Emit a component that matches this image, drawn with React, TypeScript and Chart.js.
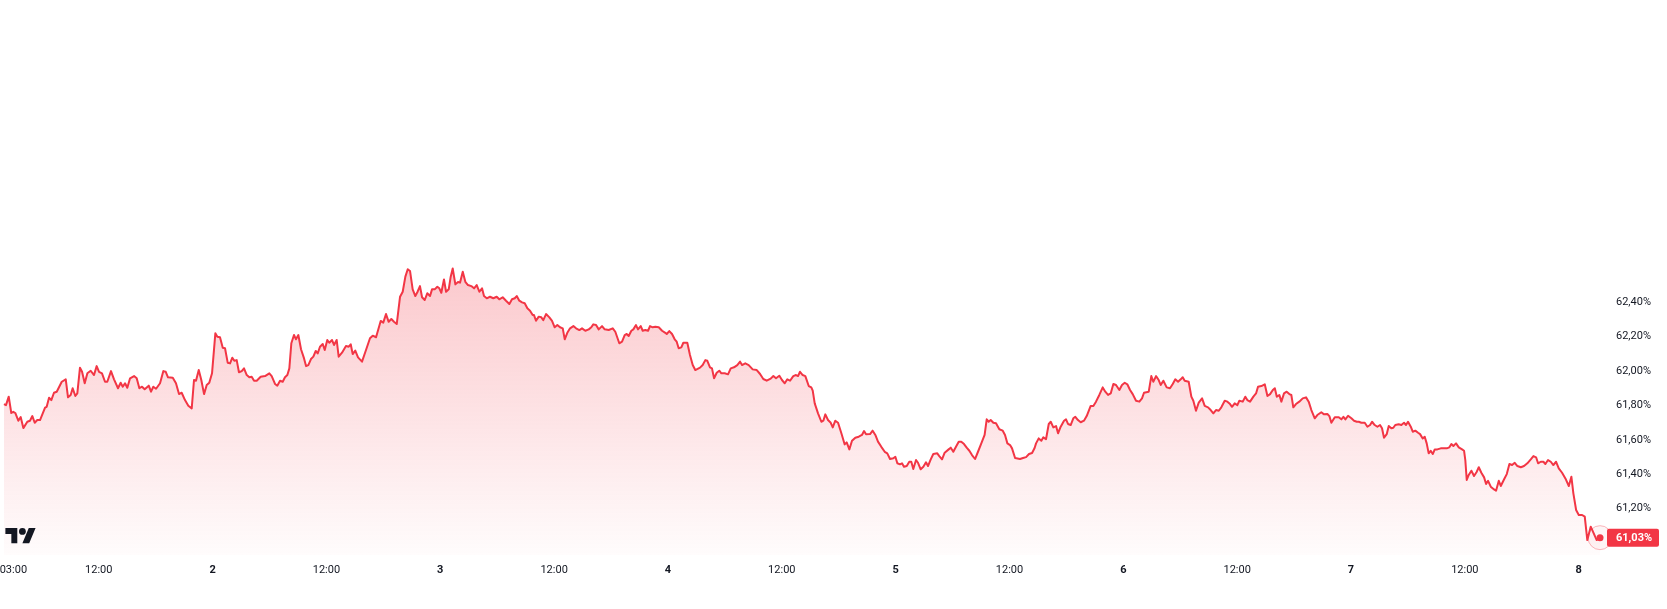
import React, { useEffect, useRef } from 'react';
import { Chart, registerables } from 'chart.js';

Chart.register(...registerables);

// Time in hours since day 1, 00:00
const hours = [
  2.01,2.22,2.51,2.78,2.99,3.20,3.52,3.77,4.05,4.47,4.75,5.00,5.25,5.52,5.81,6.34,6.51,6.76,7.00,7.28,7.57,8.10,8.52,8.76,9.04,9.25,9.53,9.74,10.02,10.24,10.52,10.80,11.15,11.50,11.78,12.03,12.34,12.66,12.90,13.29,13.61,14.03,14.31,14.53,14.77,15.01,15.30,15.72,16.00,16.28,16.56,16.84,17.27,17.51,17.75,18.04,18.46,18.81,19.06,19.30,19.80,20.14,20.46,20.74,21.09,21.44,21.80,22.04,22.25,22.54,22.81,23.10,23.38,23.65,23.94,
  24.29,24.50,24.78,25.07,25.31,25.59,25.84,26.08,26.29,26.54,26.78,27.07,27.31,27.60,27.87,28.12,28.37,28.65,29.07,29.53,29.98,30.23,30.58,30.82,31.11,31.39,31.63,31.88,32.09,32.30,32.58,32.79,33.04,33.32,33.64,33.85,34.09,34.37,34.62,34.87,35.08,35.32,35.61,35.82,36.09,36.30,36.59,36.80,37.08,37.29,37.64,38.06,38.35,38.56,38.77,39.04,39.33,39.75,40.17,40.59,40.88,41.23,41.72,41.99,42.28,42.56,42.84,43.12,43.41,43.76,44.04,44.32,44.57,44.81,45.09,45.37,45.58,45.86,46.08,46.36,46.63,46.92,47.13,47.41,47.69,47.90,
  48.11,48.39,48.61,48.89,49.10,49.31,49.59,49.87,50.08,50.37,50.64,50.92,51.27,51.56,51.84,52.12,52.40,52.61,52.90,53.24,53.59,53.95,54.22,54.58,54.93,55.28,55.56,55.85,56.06,56.33,56.62,56.90,57.18,57.46,57.74,57.88,58.09,58.38,58.65,58.86,59.15,59.50,59.78,60.06,60.34,60.62,60.91,61.12,61.39,61.68,62.03,62.31,62.66,62.94,63.29,63.65,63.92,64.13,64.42,64.70,65.05,65.33,65.75,66.18,66.45,66.87,67.16,67.44,67.65,67.86,68.14,68.35,68.63,68.84,69.13,69.34,69.61,69.90,70.11,70.39,70.67,71.03,71.38,71.72,71.87,
  72.14,72.43,72.71,72.92,73.13,73.41,73.62,74.04,74.32,74.61,74.88,75.38,75.66,75.94,76.15,76.43,76.64,76.86,77.14,77.41,77.63,77.98,78.33,78.62,78.96,79.31,79.60,79.81,80.15,80.51,80.93,81.36,81.71,82.05,82.41,82.83,83.11,83.39,83.74,84.02,84.31,84.58,84.87,85.21,85.50,85.71,85.92,86.20,86.48,86.84,87.11,87.26,87.47,87.82,88.17,88.38,88.59,88.87,89.16,89.37,89.64,89.93,90.28,90.63,90.84,91.12,91.40,91.75,92.11,92.45,92.67,92.88,93.30,93.58,93.86,94.14,94.49,94.85,95.12,95.41,95.76,95.97,
  96.18,96.46,96.67,96.88,97.17,97.44,97.65,97.86,98.15,98.36,98.64,98.92,99.20,99.41,99.70,99.97,100.39,100.60,100.89,101.17,101.59,101.81,102.08,102.36,102.65,102.92,103.21,103.49,103.77,104.05,104.37,104.63,105.00,105.38,105.60,105.81,106.02,106.30,106.58,106.93,107.29,107.53,107.78,108.06,108.27,108.59,109.11,109.43,109.75,110.06,110.38,110.65,110.80,111.08,111.36,111.57,111.85,112.14,112.35,112.62,112.91,113.12,113.40,113.75,113.96,114.17,114.45,114.73,114.94,115.22,115.51,115.85,116.14,116.56,116.84,117.12,117.47,117.83,118.10,118.39,118.67,118.95,119.23,119.58,119.86,
  120.15,120.42,120.71,120.99,121.34,121.69,121.97,122.18,122.68,122.95,123.16,123.45,123.73,123.94,124.22,124.57,124.92,125.21,125.48,125.77,126.05,126.26,126.47,126.89,127.17,127.38,127.66,127.95,128.30,128.58,128.93,129.21,129.49,129.77,130.06,130.33,130.69,130.97,131.25,131.46,131.74,132.02,132.23,132.59,132.86,133.07,133.36,133.71,133.99,134.20,134.55,134.91,135.19,135.47,135.76,135.97,136.18,136.45,136.66,136.94,137.22,137.50,137.71,137.92,138.20,138.55,138.91,139.26,139.54,139.82,140.18,140.45,140.87,141.16,141.51,141.72,141.93,142.29,142.71,142.98,143.20,143.41,143.69,
  144.04,144.32,144.61,144.82,145.09,145.45,145.73,146.01,146.22,146.50,146.78,147.06,147.27,147.48,147.77,147.98,148.25,148.46,148.67,149.03,149.31,149.59,149.80,150.01,150.30,150.51,150.78,151.07,151.28,151.56,151.77,151.98,152.19,152.40,152.62,152.83,153.10,153.46,153.81,154.09,154.37,154.58,154.79,155.07,155.36,155.71,155.92,156.05,156.20,156.41,156.69,156.97,157.26,157.47,157.74,158.03,158.24,158.45,158.73,159.08,159.29,159.58,159.79,160.14,160.42,160.70,160.98,161.26,161.54,161.90,162.24,162.59,162.95,163.23,163.51,163.72,164.00,164.28,164.49,164.77,165.06,165.33,165.62,165.90,166.25,166.60,166.96,167.23,167.44,167.73,168.01,168.36,168.64,168.91,169.27,169.55,169.90,170.25
];

// Rate in %
const rates = [
  61.808,61.802,61.851,61.756,61.763,61.756,61.711,61.732,61.668,61.705,61.711,61.738,61.699,61.715,61.715,61.787,61.792,61.845,61.831,61.874,61.880,61.938,61.952,61.847,61.861,61.900,61.855,61.870,62.020,61.996,61.929,61.987,62.002,61.977,62.029,61.996,61.987,61.938,61.938,62.000,61.952,61.900,61.932,61.909,61.929,61.903,61.958,61.971,61.958,61.900,61.909,61.894,61.915,61.880,61.909,61.897,61.929,62.000,61.996,61.964,61.961,61.929,61.866,61.874,61.831,61.798,61.783,61.948,61.944,62.006,61.948,61.866,61.919,61.932,61.987,
  62.220,62.200,62.197,62.136,62.133,62.049,62.045,62.078,62.060,62.064,61.993,62.000,62.016,61.977,61.964,61.967,61.944,61.944,61.967,61.971,61.987,61.971,61.925,61.915,61.944,61.938,61.964,61.977,62.016,62.162,62.210,62.185,62.210,62.127,62.074,62.029,62.035,62.070,62.084,62.117,62.103,62.142,62.158,62.123,62.181,62.165,62.181,62.152,62.181,62.084,62.107,62.146,62.142,62.156,62.099,62.119,62.080,62.055,62.123,62.191,62.206,62.197,62.292,62.282,62.332,62.287,62.303,62.287,62.274,62.433,62.462,62.550,62.593,62.583,62.476,62.437,62.459,62.495,62.430,62.414,62.453,62.437,62.476,62.476,62.491,62.482,
  62.456,62.534,62.462,62.476,62.550,62.598,62.505,62.519,62.515,62.579,62.520,62.501,62.495,62.482,62.501,62.462,62.482,62.437,62.424,62.433,62.424,62.433,62.418,62.430,62.410,62.391,62.418,62.424,62.437,62.410,62.400,62.395,62.366,62.352,62.326,62.326,62.293,62.317,62.313,62.297,62.332,62.313,62.293,62.255,62.268,62.255,62.249,62.185,62.223,62.249,62.262,62.249,62.239,62.249,62.235,62.243,62.255,62.272,62.268,62.243,62.262,62.243,62.239,62.249,62.229,62.162,62.171,62.210,62.216,62.204,62.235,62.243,62.268,62.243,62.262,62.235,62.239,62.235,62.262,62.255,62.258,62.255,62.235,62.223,62.216,
  62.233,62.216,62.185,62.171,62.133,62.138,62.165,62.165,62.094,62.035,62.006,62.020,62.035,62.064,62.060,62.022,62.016,61.958,61.990,62.002,61.987,61.987,61.981,62.016,62.022,62.035,62.055,62.035,62.045,62.035,62.010,62.006,61.983,61.954,61.944,61.956,61.971,61.958,61.973,61.948,61.929,61.952,61.944,61.971,61.977,61.971,61.996,61.977,61.971,61.913,61.905,61.886,61.812,61.754,61.705,61.711,61.748,61.715,61.699,61.672,61.711,61.699,61.638,61.573,61.585,61.544,61.594,61.612,61.618,61.628,61.651,61.632,61.633,61.653,61.628,61.589,61.559,61.530,61.521,61.488,61.492,61.501,
  61.463,61.457,61.463,61.443,61.447,61.472,61.472,61.430,61.482,61.466,61.428,61.443,61.469,61.447,61.486,61.517,61.521,61.505,61.486,61.525,61.544,61.554,61.530,61.559,61.589,61.589,61.575,61.554,61.536,61.511,61.488,61.523,61.575,61.628,61.719,61.705,61.715,61.699,61.696,61.661,61.653,61.628,61.579,61.569,61.550,61.494,61.488,61.494,61.499,61.517,61.523,61.552,61.579,61.608,61.594,61.614,61.603,61.692,61.705,61.672,61.680,61.638,61.676,61.711,61.719,61.692,61.686,61.725,61.734,61.715,61.702,61.711,61.738,61.797,61.797,61.822,61.861,61.905,61.880,61.861,61.870,61.925,61.919,61.890,61.919,
  61.932,61.923,61.890,61.866,61.827,61.822,61.841,61.874,61.880,61.971,61.938,61.971,61.948,61.919,61.944,61.905,61.900,61.925,61.952,61.938,61.952,61.964,61.944,61.938,61.851,61.827,61.769,61.816,61.841,61.797,61.789,61.773,61.754,61.773,61.769,61.789,61.827,61.822,61.808,61.792,61.812,61.802,61.827,61.822,61.851,61.831,61.822,61.851,61.870,61.909,61.913,61.923,61.855,61.866,61.890,61.900,61.851,61.861,61.822,61.870,61.880,61.866,61.861,61.789,61.808,61.822,61.841,61.847,61.822,61.773,61.725,61.744,61.760,61.748,61.750,61.738,61.699,61.731,61.731,61.719,61.734,61.719,61.740,
  61.725,61.711,61.705,61.705,61.699,61.699,61.676,61.686,61.705,61.686,61.676,61.686,61.667,61.612,61.633,61.680,61.667,61.670,61.686,61.690,61.686,61.699,61.686,61.705,61.676,61.647,61.653,61.641,61.633,61.608,61.618,61.579,61.521,61.536,61.517,61.544,61.544,61.550,61.550,61.550,61.556,61.575,61.564,61.579,61.556,61.544,61.536,61.482,61.366,61.395,61.420,61.389,61.414,61.440,61.408,61.381,61.342,61.361,61.327,61.311,61.303,61.361,61.331,61.370,61.400,61.459,61.453,61.466,61.447,61.440,61.447,61.463,61.486,61.505,61.498,61.463,61.472,61.472,61.459,61.482,61.472,61.453,61.472,61.434,61.408,61.375,61.331,61.385,61.288,61.191,61.162,61.162,61.152,61.016,61.094,61.059,61.016,61.030
];

const yTickValues = [61.2, 61.4, 61.6, 61.8, 62.0, 62.2, 62.4];
const xTickHours = [3, 12, 24, 36, 48, 60, 72, 84, 96, 108, 120, 132, 144, 156, 168];

const X_MIN = 1.59;
const X_MAX = 170.88;
const Y_MIN = 60.929;
const Y_MAX = 64.161;

const RED = '#F23645';
const TEXT = '#131722';
const FONT = "Roboto, 'Noto Sans', 'Liberation Sans', Arial, sans-serif";

function fmtPct(v: number): string {
  return v.toFixed(2).replace('.', ',') + '%';
}

function fmtHour(h: number): string {
  if (h % 24 === 0) return String(h / 24 + 1);
  const hh = h % 24;
  return String(hh).padStart(2, '0') + ':00';
}

const TV_PATH = 'M14 22H7V11H0V4h14v18zM28 22h-8l7.5-18h8L28 22z';

const overlayPlugin = {
  id: 'overlay',
  afterDatasetsDraw(chart: any) {
    const { ctx, chartArea } = chart;
    const meta = chart.getDatasetMeta(0);
    const last = meta.data[meta.data.length - 1];
    const lastVal = rates[rates.length - 1];
    ctx.save();
    // pulse ring
    ctx.beginPath();
    ctx.arc(last.x, last.y, 12, 0, Math.PI * 2);
    ctx.fillStyle = 'rgba(242,54,69,0.05)';
    ctx.fill();
    ctx.strokeStyle = 'rgba(242,54,69,0.35)';
    ctx.lineWidth = 1;
    ctx.stroke();
    // last dot
    ctx.beginPath();
    ctx.arc(last.x, last.y, 3.5, 0, Math.PI * 2);
    ctx.fillStyle = RED;
    ctx.fill();
    // price tag
    const tagX = chartArea.right + 1;
    const tagW = 52;
    const tagH = 18;
    const ty = chart.scales.y.getPixelForValue(lastVal);
    ctx.fillStyle = RED;
    ctx.beginPath();
    if (ctx.roundRect) ctx.roundRect(tagX, ty - tagH / 2, tagW, tagH, 2);
    else ctx.rect(tagX, ty - tagH / 2, tagW, tagH);
    ctx.fill();
    ctx.fillStyle = '#ffffff';
    ctx.font = `bold 11px ${FONT}`;
    ctx.textAlign = 'left';
    ctx.textBaseline = 'middle';
    ctx.fillText(fmtPct(lastVal), chartArea.right + 10, ty + 0.5);
    // TradingView logo
    ctx.translate(chartArea.left + 5.4, chartArea.bottom - 30.4);
    ctx.scale(0.85, 0.85);
    ctx.fillStyle = TEXT;
    ctx.fill(new Path2D(TV_PATH));
    ctx.beginPath();
    ctx.arc(20, 8, 4, 0, Math.PI * 2);
    ctx.fill();
    ctx.restore();
  },
};

export default function App() {
  const canvasRef = useRef<HTMLCanvasElement | null>(null);

  useEffect(() => {
    const canvas = canvasRef.current;
    if (!canvas) return;
    Chart.defaults.font.family = FONT;
    const maxRate = Math.max(...rates);
    const points = hours.map((h, i) => ({ x: h, y: rates[i] }));
    const chart = new Chart(canvas, {
      type: 'line',
      data: {
        datasets: [
          {
            data: points,
            borderColor: RED,
            borderWidth: 2,
            borderJoinStyle: 'round',
            pointRadius: 0,
            tension: 0,
            fill: 'start',
            backgroundColor: (context: any) => {
              const { ctx, chartArea, scales } = context.chart;
              if (!chartArea) return 'rgba(242,54,69,0.15)';
              const top = scales.y.getPixelForValue(maxRate);
              const g = ctx.createLinearGradient(0, top, 0, chartArea.bottom);
              g.addColorStop(0, 'rgba(242,54,69,0.27)');
              g.addColorStop(1, 'rgba(242,54,69,0.015)');
              return g;
            },
          },
        ],
      },
      options: {
        animation: false,
        responsive: false,
        maintainAspectRatio: false,
        devicePixelRatio: 1,
        layout: { padding: 0 },
        plugins: {
          legend: { display: false },
          tooltip: { enabled: false },
        },
        events: [],
        scales: {
          x: {
            type: 'linear',
            min: X_MIN,
            max: X_MAX,
            grid: { display: false, drawTicks: false },
            border: { display: false },
            afterFit: (s: any) => {
              s.height = 54;
              s.paddingLeft = 0;
              s.paddingRight = 0;
              s.paddingTop = 0;
              s.paddingBottom = 0;
            },
            afterBuildTicks: (s: any) => {
              s.ticks = xTickHours.map((v) => ({ value: v }));
            },
            ticks: {
              autoSkip: false,
              maxRotation: 0,
              padding: 9,
              color: TEXT,
              font: (c: any) => ({
                size: 11,
                weight: c.tick && c.tick.value % 24 === 0 ? 'bold' : 'normal',
              }),
              callback: (v: any) => fmtHour(Number(v)),
            },
          },
          y: {
            type: 'linear',
            position: 'right',
            min: Y_MIN,
            max: Y_MAX,
            grid: { display: false, drawTicks: false },
            border: { display: false },
            afterFit: (s: any) => {
              s.width = 61;
              s.paddingLeft = 0;
              s.paddingRight = 0;
              s.paddingTop = 0;
              s.paddingBottom = 0;
            },
            afterBuildTicks: (s: any) => {
              s.ticks = yTickValues.map((v) => ({ value: v }));
            },
            ticks: {
              padding: 10,
              color: TEXT,
              font: { size: 11 },
              callback: (v: any) => fmtPct(Number(v)),
            },
          },
        },
      },
      plugins: [overlayPlugin],
    } as any);
    return () => chart.destroy();
  }, []);

  return (
    <div
      style={{
        position: 'fixed',
        left: 0,
        top: 0,
        width: 1667,
        height: 609,
        background: '#ffffff',
      }}
    >
      <canvas ref={canvasRef} width={1667} height={609} style={{ width: 1667, height: 609, display: 'block' }} />
    </div>
  );
}
